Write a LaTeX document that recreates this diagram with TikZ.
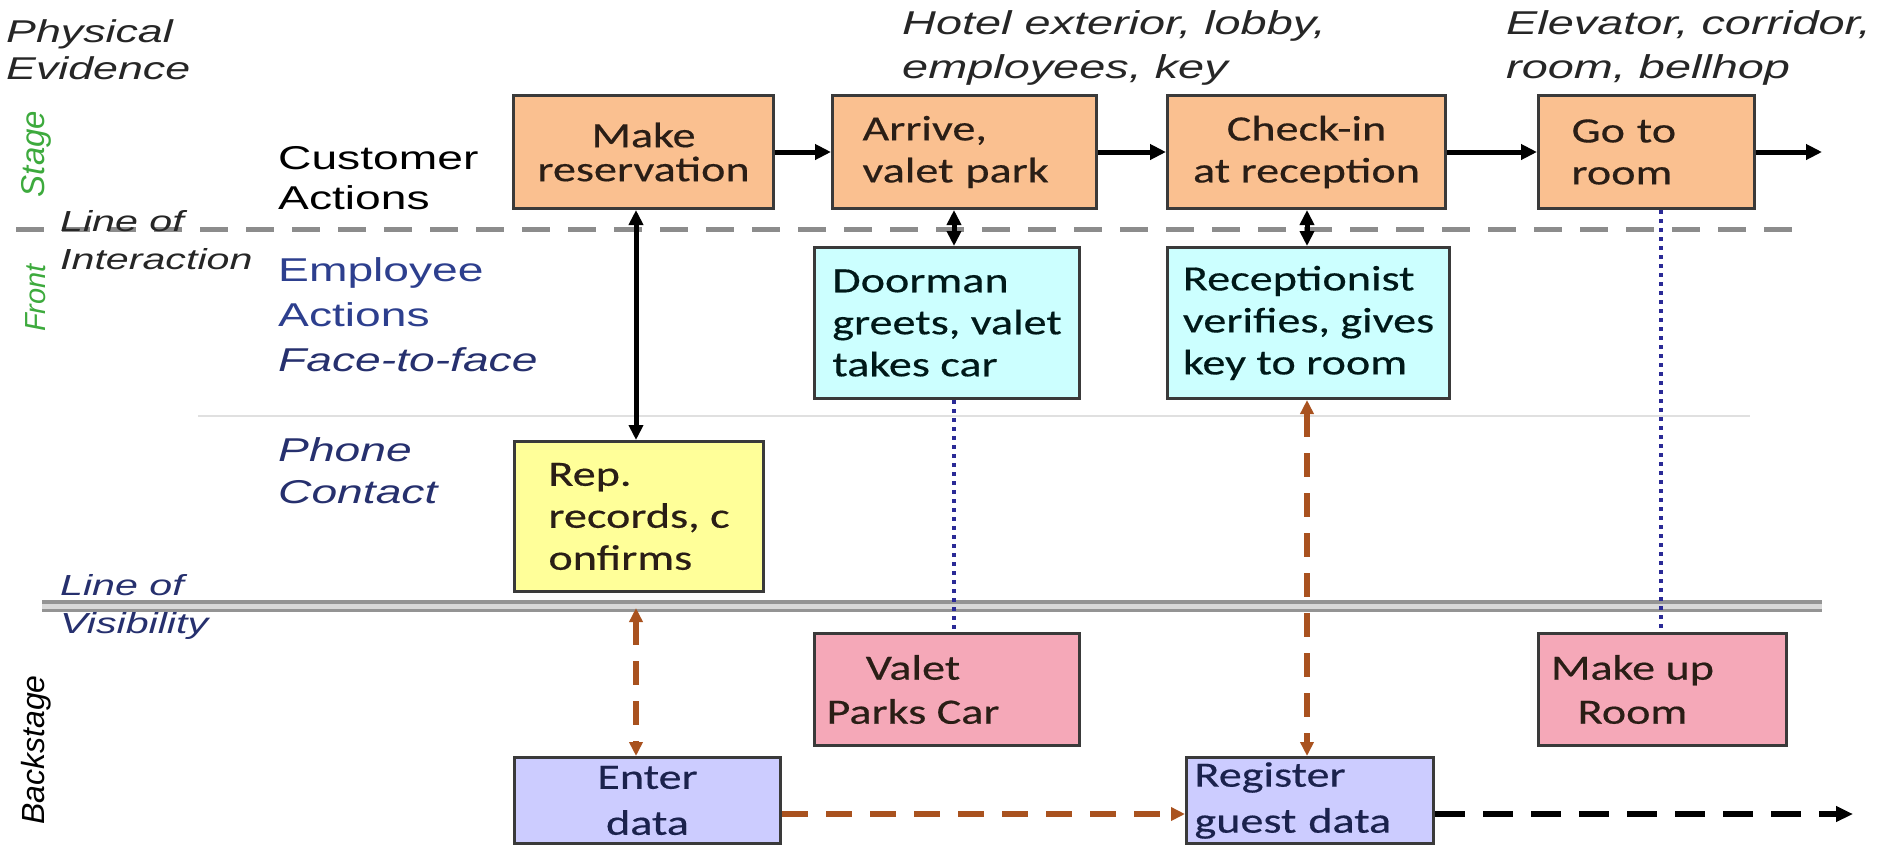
\documentclass[tikz,border=0pt]{standalone}
\usepackage{fontspec}
\usetikzlibrary{arrows.meta,calc}
\newfontfamily\labf[FakeStretch=1.4]{Liberation Sans}
\newfontfamily\evif[FakeStretch=1.42]{Liberation Sans}
\newfontfamily\rotf{Liberation Sans}
\newfontfamily\boxf[FakeStretch=1.3,FakeBold=0.4]{Carlito}
\definecolor{orfill}{HTML}{FAC090}
\definecolor{cyfill}{HTML}{CCFFFF}
\definecolor{yefill}{HTML}{FFFF99}
\definecolor{pkfill}{HTML}{F5A8B8}
\definecolor{lvfill}{HTML}{CCCCFF}
\definecolor{boxline}{HTML}{3A3A3A}
\definecolor{brownarr}{HTML}{A9521F}
\definecolor{dotblue}{HTML}{2A2A96}
\definecolor{empblue}{HTML}{2D3F8E}
\definecolor{navy}{HTML}{26306E}
\definecolor{stagegreen}{HTML}{3DAA3D}
\definecolor{loigrey}{HTML}{8C8C8C}
\definecolor{txtdark}{HTML}{2A1E16}
\begin{document}
\begin{tikzpicture}[x=1pt,y=-1pt,
  box/.style={draw=boxline, line width=3pt, inner ysep=0pt, anchor=north west,
    text=txtdark, font=\boxf\fontsize{35.5}{42}\selectfont},
  orbox/.style={box, fill=orfill},
  cybox/.style={box, fill=cyfill},
  yebox/.style={box, fill=yefill},
  pkbox/.style={box, fill=pkfill},
  lvbox/.style={box, fill=lvfill},
  boxtext/.style={inner sep=0pt, align=center, text=txtdark, font=\boxf\fontsize{35.5}{44}\selectfont},
  lab/.style={inner sep=0pt, anchor=west, align=left, font=\labf\fontsize{33}{40}\selectfont},
  evid/.style={inner sep=0pt, anchor=west, align=left, text=black!85, font=\evif\itshape\fontsize{33}{44}\selectfont},
  side/.style={inner sep=0pt, rotate=90, font=\rotf\itshape\fontsize{32}{38}\selectfont},
  flow/.style={line width=5pt, -{Triangle[length=16pt,width=15pt]}},
  flow2/.style={line width=5pt, {Triangle[length=15pt,width=14pt]}-{Triangle[length=15pt,width=14pt]}},
  bdash/.style={draw=brownarr, line width=6pt, dash pattern=on 24pt off 16pt,
    {Triangle[length=14pt,width=13pt]}-{Triangle[length=14pt,width=13pt]}},
  bdash1/.style={draw=brownarr, line width=6pt, dash pattern=on 26pt off 18pt,
    -{Triangle[length=14pt,width=13pt]}},
  kdash/.style={draw=black, line width=6pt, dash pattern=on 30pt off 18pt,
    -{Triangle[length=17pt,width=15pt]}},
  dotl/.style={draw=dotblue, line width=4pt, dash pattern=on 4pt off 5pt}
]
\path[use as bounding box, fill=white] (0,0) rectangle (1881,844);

% swim-lane lines
\coordinate (loiA) at (16,229);
\coordinate (loiB) at (1808,229);
\coordinate (thA) at (198,416);
\coordinate (thB) at (1750,416);
\coordinate (lovA) at (42,606);
\coordinate (lovB) at (1822,606);
\draw[loigrey, line width=5pt, dash pattern=on 28pt off 18pt] (loiA) -- (loiB);
\draw[black!12, line width=1.5pt] (thA) -- (thB);
\draw[draw=black!42, line width=3.5pt, double=black!15, double distance=5pt] (lovA) -- (lovB);

% left labels
\node[evid, font=\evif\itshape\fontsize{31.5}{37}\selectfont] (phys) at (6,50) {Physical\\Evidence};
\node[side, text=stagegreen, font=\rotf\itshape\fontsize{33}{38}\selectfont] (stage) at (36,154) {Stage};
\node[side, text=stagegreen, font=\rotf\itshape\fontsize{29}{34}\selectfont] (front) at (36,298) {Front};
\node[side, text=black] (backst) at (36,750) {Backstage};
\node[lab, text=black] (cust) at (278,178) {Customer\\Actions};
\node[evid, font=\evif\itshape\fontsize{29}{38}\selectfont] (loi) at (60,240) {Line of\\Interaction};
\node[lab, text=empblue, font=\labf\fontsize{33}{45}\selectfont] (emp) at (278,292) {Employee\\Actions};
\node[lab, text=navy, font=\labf\itshape\fontsize{33}{40}\selectfont] (f2f) at (278,360) {Face-to-face};
\node[lab, text=navy, font=\labf\itshape\fontsize{33}{42}\selectfont] (phone) at (278,471) {Phone\\Contact};
\node[evid, text=navy, font=\evif\itshape\fontsize{29}{38}\selectfont] (lov) at (60,607) {Line of\\Visibility};

% physical evidence
\node[evid] (ev1) at (902,48) {Hotel exterior, lobby,\\employees, key};
\node[evid] (ev2) at (1506,48) {Elevator, corridor,\\room, bellhop};

% customer actions
\node[orbox, minimum width=260pt, minimum height=113pt, align=center, inner xsep=0pt,
  font=\boxf\fontsize{35.5}{34}\selectfont] (mk) at (512,94) {Make\\reservation};
\node[orbox, minimum width=264pt, minimum height=113pt, align=left, text width=204pt, inner xsep=30pt] (arr) at (831,94) {Arrive,\\valet park};
\node[orbox, minimum width=278pt, minimum height=113pt, align=center, inner xsep=0pt] (chk) at (1166,94) {Check-in\\at reception};
\node[orbox, minimum width=216pt, minimum height=113pt, align=left, text width=150pt, inner xsep=33pt] (go) at (1537,94) {Go to\\room};

% employee actions
\node[cybox, minimum width=265pt, minimum height=151pt, align=left, inner xsep=0pt, text=black!80!teal] (door) at (813,246) {Doorman\\greets, valet\\takes car};
\node[cybox, minimum width=282pt, minimum height=151pt, align=left, inner xsep=0pt, text=black!80!teal] (recp) at (1166,246) {Receptionist\\verifies, gives\\key to room};
\node[yebox, minimum width=249pt, minimum height=150pt, align=left, inner xsep=0pt] (rep) at (513,440) {Rep.\\records, c\\onfirms};

% backstage
\node[pkbox, minimum width=265pt, minimum height=112pt] (valet) at (813,632) {};
\node[boxtext] (valettxt) at ([xshift=-34pt]valet.center) {Valet\\Parks Car};
\node[pkbox, minimum width=248pt, minimum height=112pt] (mkup) at (1537,632) {};
\node[boxtext] (mkuptxt) at ([xshift=-30pt]mkup.center) {Make up\\Room};
\node[lvbox, minimum width=266pt, minimum height=86pt, align=center, inner xsep=0pt, text=navy!70!black,
  font=\boxf\fontsize{35.5}{46}\selectfont] (enter) at (513,756) {Enter\\data};
\node[lvbox, minimum width=247pt, minimum height=86pt, align=left, text width=231pt, inner xsep=8pt, text=navy!70!black,
  font=\boxf\fontsize{35.5}{46}\selectfont] (reg) at (1185,756) {Register\\guest data};

% column / row coordinates
\coordinate (c1) at (636,0);
\coordinate (c2) at (954,0);
\coordinate (c3) at (1307,0);
\coordinate (c4) at (1661,0);
\coordinate (by) at (0,814);
\coordinate (endA) at ($(go.east)+(66,0)$);
\coordinate (endB) at (1853,814);

% customer flow
\draw[flow] (mk.east) -- (arr.west);
\draw[flow] (arr.east) -- (chk.west);
\draw[flow] (chk.east) -- (go.west);
\draw[flow] (go.east) -- (endA);

% vertical links
\draw[flow2] (mk.south -| c1) -- (rep.north -| c1);
\draw[flow2] (arr.south -| c2) -- (door.north -| c2);
\draw[flow2] (chk.south -| c3) -- (recp.north -| c3);
\draw[bdash, shorten <=15pt] (rep.south -| c1) -- (enter.north -| c1);
\draw[bdash] (recp.south -| c3) -- (reg.north -| c3);
\draw[dotl] (door.south -| c2) -- (valet.north -| c2);
\draw[dotl] (go.south -| c4) -- (mkup.north -| c4);

% backstage flow
\draw[bdash1] (enter.east |- by) -- (reg.west |- by);
\draw[kdash] (reg.east |- by) -- (endB);
\end{tikzpicture}
\end{document}
